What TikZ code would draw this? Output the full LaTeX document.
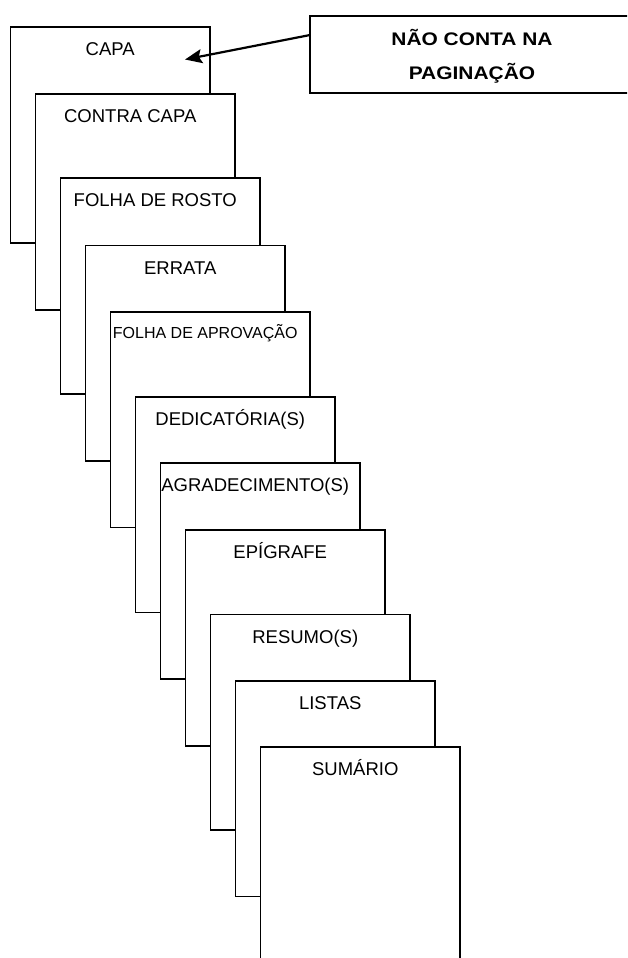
\documentclass[tikz,border=0pt]{standalone}
\usepackage{fontspec}
\setmainfont{Liberation Sans}
\newfontfamily\widebold[FakeStretch=1.15]{Liberation Sans}
\usetikzlibrary{arrows.meta,calc}
\begin{document}
\begin{tikzpicture}[x=1pt,y=-1pt,
  pagebox/.style={draw=black, line width=1.8pt, fill=white, minimum width=199.5pt, minimum height=215.7pt, anchor=north west, inner sep=0pt, outer sep=0pt},
  lbl/.style={anchor=base, inner sep=0pt, font=\fontsize{18.5}{22}\selectfont},
  smalllbl/.style={anchor=base, inner sep=0pt, font=\fontsize{16}{19}\selectfont},
  notebox/.style={draw=black, line width=1.8pt, fill=white, minimum width=360pt, minimum height=77pt, anchor=north west, inner sep=0pt, outer sep=0pt},
  notelbl/.style={anchor=base, inner sep=0pt, font=\widebold\bfseries\fontsize{18.2}{22}\selectfont},
  pointer/.style={draw=black, line width=2.2pt, -{Stealth[length=17pt,width=14pt,inset=3pt]}}
]
\clip (0,0) rectangle (627,958);
\fill[white] (0,0) rectangle (627,958);

\node[pagebox] (b1) at (10.5,27) {};
\node[lbl] (l1) at ($(b1.north)+(0,28.6)$) {CAPA};
\node[pagebox] (b2) at (35.5,94) {};
\node[lbl] (l2) at ($(b2.north)+(-5,28.6)$) {CONTRA CAPA};
\node[pagebox] (b3) at (60.5,178.3) {};
\node[lbl] (l3) at ($(b3.north)+(-5,28.6)$) {FOLHA DE ROSTO};
\node[pagebox] (b4) at (85.5,245.5) {};
\node[lbl] (l4) at ($(b4.north)+(-5,28.6)$) {ERRATA};
\node[pagebox] (b5) at (110.5,311.7) {};
\node[smalllbl] (l5) at ($(b5.north)+(-5,26.3)$) {FOLHA DE APROVAÇÃO};
\node[pagebox] (b6) at (135.5,396.7) {};
\node[lbl] (l6) at ($(b6.north)+(-5,28.6)$) {DEDICATÓRIA(S)};
\node[pagebox] (b7) at (160.5,463.3) {};
\node[lbl] (l7) at ($(b7.north)+(-5,28.6)$) {AGRADECIMENTO(S)};
\node[pagebox] (b8) at (185.5,530) {};
\node[lbl] (l8) at ($(b8.north)+(-5,28.6)$) {EPÍGRAFE};
\node[pagebox] (b9) at (210.5,614.5) {};
\node[lbl] (l9) at ($(b9.north)+(-5,28.6)$) {RESUMO(S)};
\node[pagebox] (b10) at (235.5,680.7) {};
\node[lbl] (l10) at ($(b10.north)+(-5,28.6)$) {LISTAS};
\node[pagebox] (b11) at (260.5,747) {};
\node[lbl] (l11) at ($(b11.north)+(-5,28.6)$) {SUMÁRIO};

\node[notebox] (nao) at (310,16) {};
\node[notelbl] (n1) at (472,45.5) {NÃO CONTA NA};
\node[notelbl] (n2) at (472,79.5) {PAGINAÇÃO};

\coordinate (tip) at (185,59.5);
\draw[pointer] ($(nao.north west)!0.247!(nao.south west)$) -- (tip);
\end{tikzpicture}
\end{document}
